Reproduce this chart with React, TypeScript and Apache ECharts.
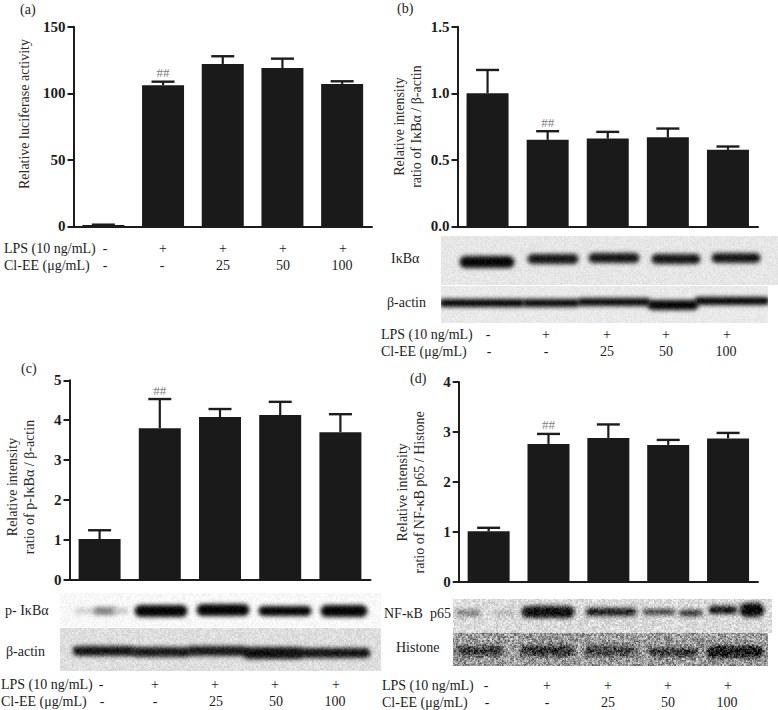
import React, { useEffect, useRef } from "react";
import * as echarts from "echarts";

const FONT = "Liberation Serif";
const INK = "#1c1c1c";

const groups = ["G1", "G2", "G3", "G4", "G5"];
const lpsRow = ["-", "+", "+", "+", "+"];
const clRow = ["-", "-", "25", "50", "100"];

const meanA = [1, 106, 122, 119, 107];
const topA = [1.3, 108.7, 127.8, 126, 109];
const meanB = [1.0, 0.65, 0.66, 0.67, 0.575];
const topB = [1.175, 0.715, 0.71, 0.735, 0.6];
const meanC = [1.02, 3.8, 4.08, 4.13, 3.7];
const topC = [1.24, 4.53, 4.28, 4.46, 4.15];
const meanD = [1.01, 2.76, 2.88, 2.74, 2.87];
const topD = [1.08, 2.96, 3.15, 2.84, 2.98];

const titleA = "Relative luciferase activity";
const titleB = "Relative intensity\nratio of IκBα / β-actin";
const titleC = "Relative intensity\nratio of p-IκBα / β-actin";
const titleD = "Relative intensity\nratio of NF-κB p65 / Histone";

const lpsName = "LPS (10 ng/mL)";
const clName = "Cl-EE (μg/mL)";

// [x, y, half width, half height, colour] for the blot bands
type Band = [number, number, number, number, string];
const bandsB1: Band[] = [
  [487, 262, 29, 8, "#080808"], [553, 259, 27, 7, "#161616"], [614, 258, 27, 7, "#161616"],
  [676, 259, 26, 7, "#161616"], [736, 258, 26, 7, "#161616"],
];
const bandsB2: Band[] = [
  [482, 303, 44, 6, "#050505"], [551, 303, 30, 6, "#0a0a0a"], [614, 302, 38, 6, "#0a0a0a"],
  [673, 305, 27, 7, "#050505"], [732, 301, 39, 6, "#050505"],
];
const bandsC1: Band[] = [
  [85, 611, 12, 5, "#cfcfcf"], [105, 611, 13, 6, "#808080"], [120, 611, 10, 5, "#c4c4c4"],
  [161, 611, 28, 8, "#050505"], [223, 610, 28, 8, "#050505"], [285, 611, 28, 7, "#050505"], [344, 611, 25, 8, "#050505"],
];
const bandsC2: Band[] = [
  [104, 651, 33, 7, "#141414"], [161, 652, 31, 7, "#181818"], [217, 651, 32, 7, "#181818"],
  [274, 653, 33, 8, "#101010"], [336, 653, 36, 7, "#141414"],
];
const bandsD1: Band[] = [
  [468, 613, 14, 5, "#808080"], [505, 613, 11, 4, "#b0b0b0"],
  [548, 612, 28, 8, "#0f0f0f"], [611, 612, 27, 6, "#1c1c1c"],
  [659, 612, 18, 5, "#444"], [691, 613, 13, 5, "#2c2c2c"],
  [723, 610, 16, 6, "#111"], [752, 610, 14, 9, "#080808"],
];
const bandsD2: Band[] = [
  [480, 651, 25, 7, "#383838"], [547, 651, 29, 7, "#303030"], [610, 651, 27, 7, "#404040"],
  [674, 652, 26, 6, "#303030"], [735, 652, 30, 8, "#181818"],
];

// x, y, width, height, background grey, speckle amount
type Blot = [number, number, number, number, number, number];
const blotB1: Blot = [441, 236, 337, 49, 230, 10];
const blotB2: Blot = [441, 286, 327, 37, 233, 8];
const blotC1: Blot = [60, 593, 321, 34, 248, 10];
const blotC2: Blot = [60, 628, 321, 43, 222, 18];
const blotD1: Blot = [453, 599, 319, 34, 218, 34];
const blotD2: Blot = [453, 633, 315, 33, 155, 80];

const blots: [Blot, Band[]][] = [
  [blotB1, bandsB1], [blotB2, bandsB2], [blotC1, bandsC1],
  [blotC2, bandsC2], [blotD1, bandsD1], [blotD2, bandsD2],
];

const blotLabels: [string, number, number][] = [
  ["IκBα", 391, 258], ["β-actin", 387, 302],
  ["p- IκBα", 5, 610], ["β-actin", 6, 651],
  ["NF-κB  p65", 384, 613], ["Histone", 396, 647],
];
const panelLabels: [string, number, number][] = [
  ["(a)", 20, 9], ["(b)", 397, 8], ["(c)", 21, 368], ["(d)", 410, 378],
];

// row placement: name x, first row y, second row y, x of cells in each row
const rows = [
  { nx: 4, y1: 248, y2: 265, xs1: [105, 163, 223, 283, 343], xs2: [105, 162, 223, 283, 342] },
  { nx: 381, y1: 334, y2: 351, xs1: [488, 546, 607, 666, 727], xs2: [489, 546, 607, 666, 726] },
  { nx: 1, y1: 684, y2: 701, xs1: [101, 155, 215, 275, 336], xs2: [102, 155, 216, 276, 335] },
  { nx: 382, y1: 685, y2: 702, xs1: [486, 547, 608, 668, 728], xs2: [487, 547, 608, 668, 727] },
];

const panels = [
  { mean: meanA, top: topA, title: titleA, max: 150, step: 50, dec: 0, left: 73.5, topPx: 26.7, w: 298.5, h: 199.7, gap: 41, pad: [0, 0, 0, 25], fs: 14 },
  { mean: meanB, top: topB, title: titleB, max: 1.5, step: 0.5, dec: 1, left: 457.5, topPx: 26.7, w: 300.5, h: 199.7, gap: 33, pad: [0, 0, 0, 0], fs: 14 },
  { mean: meanC, top: topC, title: titleC, max: 5, step: 1, dec: 0, left: 69.5, topPx: 380.3, w: 301, h: 199.4, gap: 32, pad: [0, 14, 0, 0], fs: 14 },
  { mean: meanD, top: topD, title: titleD, max: 4, step: 1, dec: 0, left: 458.7, topPx: 382, w: 299.3, h: 199.7, gap: 31, pad: [0, 21, 0, 0], fs: 14 },
];

const text = (t: string, x: number, y: number, size = 14, align = "left", fill = INK) => ({
  type: "text",
  x,
  y,
  silent: true,
  style: { text: t, fontFamily: FONT, fontSize: size, fill, align, verticalAlign: "middle" },
});

// fixed speckle texture: a plain hash of the pixel position
const grain = (x: number, y: number) => {
  const s = Math.sin(x * 12.9898 + y * 78.233) * 43758.5453;
  return s - Math.floor(s) - 0.5;
};

const blotImage = ([bx, by, w, h, bg, speckle]: Blot, bands: Band[]) => {
  const cv = document.createElement("canvas");
  cv.width = w;
  cv.height = h;
  const ctx = cv.getContext("2d")!;
  ctx.fillStyle = `rgb(${bg},${bg},${bg})`;
  ctx.fillRect(0, 0, w, h);
  ctx.filter = "blur(2px)";
  bands.forEach(([x, y, hw, hh, c]) => {
    const bw = hw * 2 - 3;
    const bh = Math.max(hh * 2 - 4, 3);
    ctx.fillStyle = c;
    ctx.beginPath();
    ctx.roundRect(x - bx - bw / 2, y - by - bh / 2, bw, bh, bh / 2);
    ctx.fill();
  });
  ctx.filter = "none";
  const img = ctx.getImageData(0, 0, w, h);
  for (let py = 0; py < h; py++) {
    for (let px = 0; px < w; px++) {
      const k = (py * w + px) * 4;
      const n = speckle * (grain(px + bx, py + by) + grain((px + bx) >> 1, (py + by) >> 1));
      const v = img.data[k] + n;
      img.data[k] = img.data[k + 1] = img.data[k + 2] = Math.max(0, Math.min(255, v));
    }
  }
  ctx.putImageData(img, 0, 0);
  const soft = document.createElement("canvas");
  soft.width = w;
  soft.height = h;
  const sc = soft.getContext("2d")!;
  sc.filter = "blur(0.6px)";
  sc.drawImage(cv, 0, 0);
  return soft.toDataURL("image/png");
};

const errorItem = (params: any, api: any) => {
  const i = api.value(0);
  const mean = api.value(2);
  const [x, yTop] = api.coord([i, api.value(1)]);
  const [, yMean] = api.coord([i, mean]);
  const children: any[] = [
    { type: "line", shape: { x1: x, y1: yTop, x2: x, y2: yMean }, style: { stroke: INK, lineWidth: 2.2 } },
    { type: "line", shape: { x1: x - 11.5, y1: yTop, x2: x + 11.5, y2: yTop }, style: { stroke: INK, lineWidth: 2.4 } },
  ];
  if (i === 1) {
    children.push({
      type: "text",
      x,
      y: yTop - 9,
      style: { text: "##", fontFamily: FONT, fontSize: 13, fill: "#808080", align: "center", verticalAlign: "middle" },
    });
  }
  return { type: "group", children };
};

export default function App() {
  const ref = useRef<HTMLDivElement>(null);
  useEffect(() => {
    const chart = echarts.init(ref.current!, null, { renderer: "svg" });
    const axisStyle = { lineStyle: { color: INK, width: 2 } };
    const graphic: any[] = [];
    blots.forEach(([b, bands]) =>
      graphic.push({
        type: "image",
        silent: true,
        x: b[0],
        y: b[1],
        style: { image: blotImage(b, bands), width: b[2], height: b[3] },
      })
    );
    blotLabels.forEach(([t, x, y]) => graphic.push(text(t, x, y, 14)));
    panelLabels.forEach(([t, x, y]) => graphic.push(text(t, x, y, 14)));
    rows.forEach((r) => {
      graphic.push(text(lpsName, r.nx, r.y1, 14));
      graphic.push(text(clName, r.nx, r.y2, 14));
      lpsRow.forEach((t, i) => graphic.push(text(t, r.xs1[i], r.y1, 14, "center")));
      clRow.forEach((t, i) => graphic.push(text(t, r.xs2[i], r.y2, 14, "center")));
    });

    chart.setOption({
      animation: false,
      backgroundColor: "#fff",
      grid: panels.map((p) => ({
        left: p.left,
        top: p.topPx,
        width: p.w,
        height: p.h,
        containLabel: false,
        outerBoundsMode: "none",
      })),
      xAxis: panels.map((_, i) => ({
        type: "category",
        gridIndex: i,
        data: groups,
        axisLine: axisStyle,
        axisTick: { alignWithLabel: true, length: 6, lineStyle: { color: INK, width: 2 } },
        axisLabel: { show: false },
      })),
      yAxis: panels.map((p, i) => ({
        type: "value",
        gridIndex: i,
        min: 0,
        max: p.max,
        interval: p.step,
        name: p.title,
        nameLocation: "middle",
        nameRotate: 90,
        nameGap: p.gap,
        nameTextStyle: {
          fontFamily: FONT,
          fontSize: p.fs,
          color: "#2a2a2a",
          lineHeight: 17,
          align: "center",
          padding: p.pad,
        },
        axisLine: { show: true, ...axisStyle },
        axisTick: { show: true, length: 6, lineStyle: { color: INK, width: 2 } },
        splitLine: { show: false },
        axisLabel: {
          fontFamily: FONT,
          fontSize: 15,
          fontWeight: "bold",
          color: INK,
          margin: 8,
          formatter: (v: number) => v.toFixed(p.dec),
        },
      })),
      series: panels.flatMap((p, i) => [
        {
          type: "bar",
          xAxisIndex: i,
          yAxisIndex: i,
          data: p.mean,
          barWidth: 42,
          itemStyle: { color: "#1a1a1a" },
          silent: true,
        },
        {
          type: "custom",
          xAxisIndex: i,
          yAxisIndex: i,
          renderItem: errorItem,
          encode: { x: 0, y: 1 },
          clip: false,
          silent: true,
          data: p.top.map((t, k) => [k, t, p.mean[k]]),
          z: 1,
        },
      ]),
      graphic,
    });
    return () => chart.dispose();
  }, []);
  return <div ref={ref} style={{ position: "absolute", left: 0, top: 0, width: 778, height: 710 }} />;
}
